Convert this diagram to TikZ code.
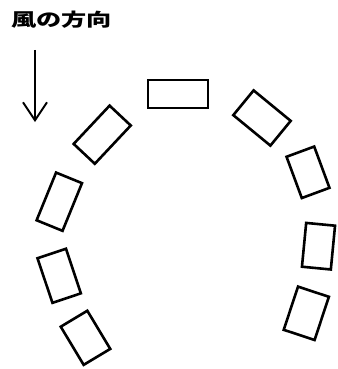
\documentclass[tikz,border=0pt]{standalone}
\usepackage{fontspec}
\newfontfamily\jpfont{Noto Sans CJK JP}
\usetikzlibrary{arrows.meta}

\begin{document}
\begin{tikzpicture}[
        x=1pt, y=-1pt,
        hut/.style={draw, line width=2.6pt, inner sep=0pt, minimum width=30pt, minimum height=47pt},
        lbl/.style={font=\jpfont\bfseries\fontsize{18}{18}\selectfont, xscale=1.4, inner sep=0pt},
      ]
      \useasboundingbox (0,0) rectangle (337,369);
      % wind direction
      \node[lbl] (wind) at (61.5,20) {風の方向};
      \coordinate (wtop) at (35,50);
      \coordinate (wend) at (35,122);
      \draw[-{Straight Barb[length=18pt, width=24pt]}, line width=1.9pt] (wtop) -- (wend);
      % blocks round the arc
      \node[hut, minimum width=60pt, minimum height=28pt] (top) at (178,94) {};
      \node[hut, minimum width=32pt, minimum height=48pt, rotate=50.6] (r1) at (262,118) {};
      \node[hut, minimum width=29.5pt, minimum height=44pt, rotate=20.3] (r2) at (308,172.3) {};
      \node[hut, minimum width=29pt, minimum height=44pt, rotate=-5.5] (r3) at (318.5,246.2) {};
      \node[hut, minimum width=32.5pt, minimum height=45.5pt, rotate=-18.3] (r4) at (306.3,313.3) {};
      \node[hut, minimum width=29pt, minimum height=52.5pt, rotate=-43.2] (l1) at (102.2,134.7) {};
      \node[hut, minimum width=28pt, minimum height=51.5pt, rotate=-22.2] (l2) at (59.3,201.7) {};
      \node[hut, minimum width=30pt, minimum height=47pt, rotate=18.5] (l3) at (59.2,275.8) {};
      \node[hut, minimum width=31pt, minimum height=44.5pt, rotate=31] (l4) at (85.5,337.8) {};
    \end{tikzpicture}
\end{document}
